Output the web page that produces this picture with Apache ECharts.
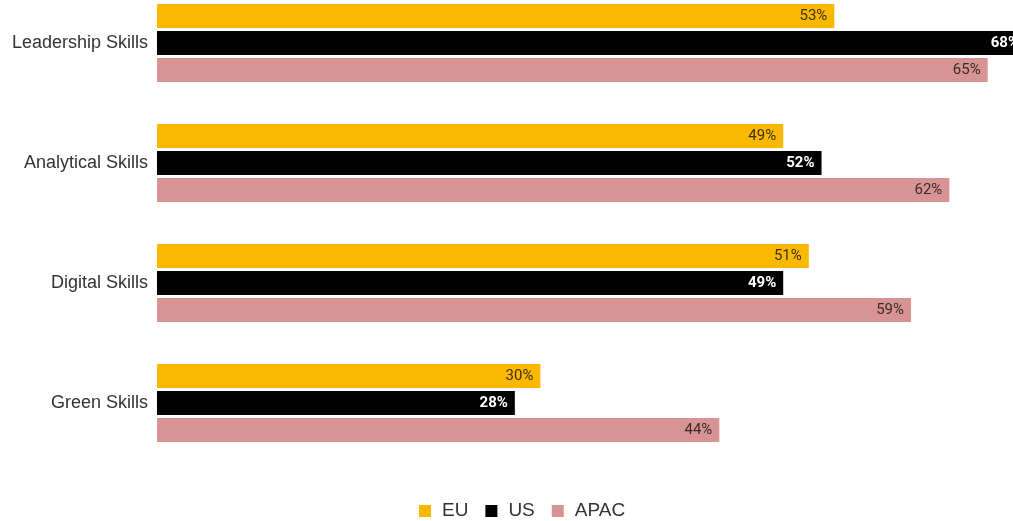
<!DOCTYPE html>
<html>
<head>
<meta charset="utf-8">
<script src="https://cdn.jsdelivr.net/npm/echarts@6/dist/echarts.min.js"></script>
<style>
  html, body { margin: 0; padding: 0; background: #ffffff; }
  #chart { width: 1013px; height: 521px; }
</style>
</head>
<body>
<div id="chart"></div>
<script>
// Skill categories, top to bottom
const categories = ['Leadership Skills', 'Analytical Skills', 'Digital Skills', 'Green Skills'];
// Share of respondents per region (%)
const euValues = [53, 49, 51, 30];
const usValues = [68, 52, 49, 28];
const apacValues = [65, 62, 59, 44];

const chart = echarts.init(document.getElementById('chart'));

function labelStyle(color, weight) {
  return {
    show: true,
    position: 'insideRight',
    distance: 7,
    formatter: '{c}%',
    color: color,
    fontFamily: 'Roboto',
    fontSize: 15,
    fontWeight: weight
  };
}

chart.setOption({
  animation: false,
  backgroundColor: '#ffffff',
  // the plot area runs past the right and top edges, so the longest bar is cut off
  grid: {
    left: 157,
    top: -17,
    width: 1278,
    height: 480,
    containLabel: false,
    outerBoundsMode: 'none'
  },
  xAxis: {
    type: 'value',
    min: 0,
    max: 100,
    show: false
  },
  yAxis: {
    type: 'category',
    data: categories,
    inverse: true,
    axisLine: { show: false },
    axisTick: { show: false },
    splitLine: { show: false },
    axisLabel: {
      margin: 9,
      color: '#333333',
      fontFamily: 'Liberation Sans',
      fontSize: 18
    }
  },
  legend: {
    top: 501,
    left: 419,
    padding: 0,
    itemWidth: 12,
    itemHeight: 12,
    itemGap: 17,
    icon: 'rect',
    textStyle: {
      color: '#333333',
      fontFamily: 'Liberation Sans',
      fontSize: 19,
      lineHeight: 20,
      padding: [0, 0, 0, 6]
    },
    data: ['EU', 'US', 'APAC']
  },
  series: [
    {
      name: 'EU',
      type: 'bar',
      data: euValues,
      barWidth: 24,
      barGap: '12%',
      clip: false,
      itemStyle: { color: '#FAB800' },
      label: labelStyle('#3d3000', 'normal')
    },
    {
      name: 'US',
      type: 'bar',
      data: usValues,
      barWidth: 24,
      barGap: '12%',
      clip: false,
      itemStyle: { color: '#000000' },
      label: labelStyle('#ffffff', 'bold')
    },
    {
      name: 'APAC',
      type: 'bar',
      data: apacValues,
      barWidth: 24,
      barGap: '12%',
      clip: false,
      itemStyle: { color: '#D89494' },
      label: labelStyle('#3a2a2a', 'normal')
    }
  ]
});
</script>
</body>
</html>
